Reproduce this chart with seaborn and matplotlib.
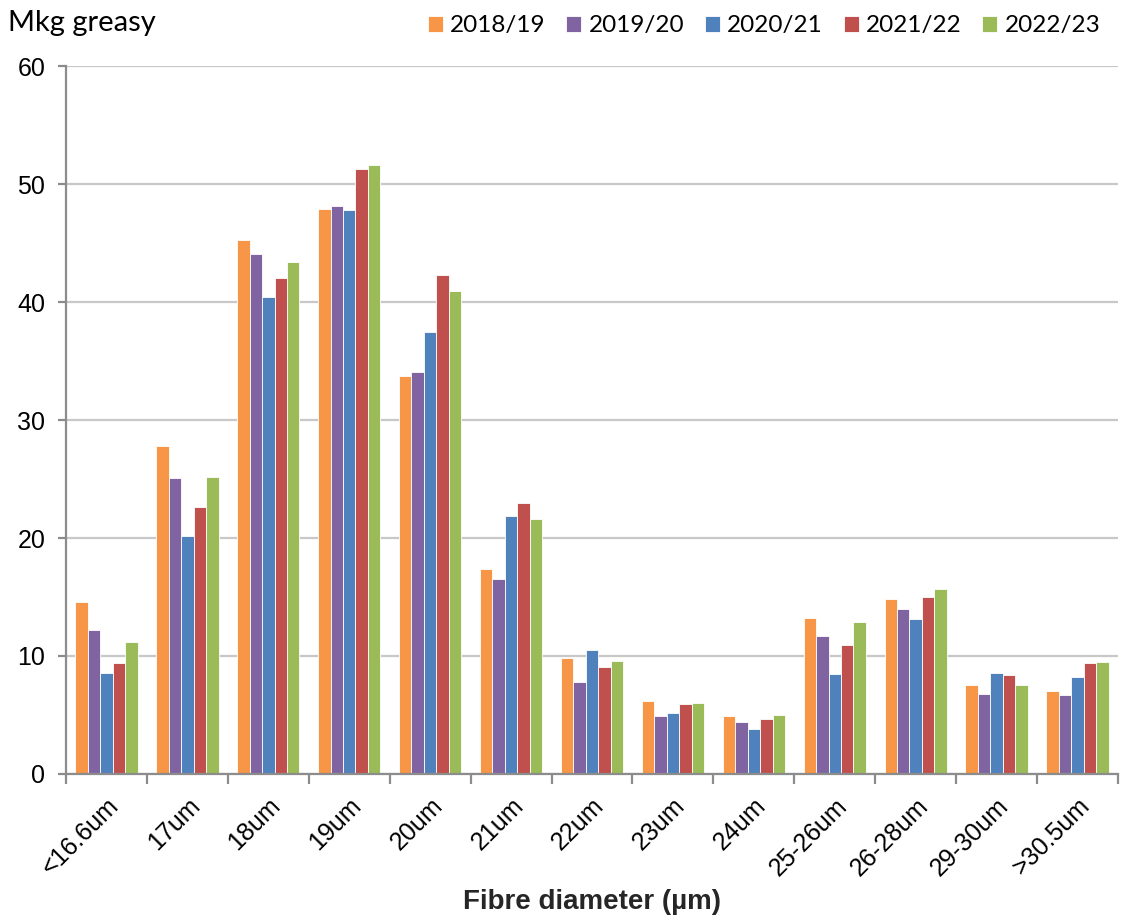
import numpy as np
import pandas as pd
import matplotlib
matplotlib.use("Agg")
import matplotlib.pyplot as plt
import seaborn as sns

categories = ["<16.6um", "17um", "18um", "19um", "20um", "21um", "22um",
              "23um", "24um", "25-26um", "26-28um", "29-30um", ">30.5um"]
seasons = ["2018/19", "2019/20", "2020/21", "2021/22", "2022/23"]

v_2018_19 = [14.6, 27.8, 45.3, 47.9, 33.7, 17.4, 9.8, 6.2, 4.9, 13.2, 14.8, 7.5, 7.0]
v_2019_20 = [12.2, 25.1, 44.1, 48.1, 34.1, 16.5, 7.8, 4.9, 4.4, 11.7, 14.0, 6.8, 6.7]
v_2020_21 = [8.6, 20.2, 40.4, 47.8, 37.5, 21.9, 10.5, 5.2, 3.8, 8.5, 13.1, 8.6, 8.2]
v_2021_22 = [9.4, 22.6, 42.0, 51.3, 42.3, 23.0, 9.1, 5.9, 4.7, 10.9, 15.0, 8.4, 9.4]
v_2022_23 = [11.2, 25.2, 43.4, 51.6, 40.9, 21.6, 9.6, 6.0, 5.0, 12.9, 15.7, 7.5, 9.5]

colors = ["#F79646", "#8064A2", "#4F81BD", "#C0504D", "#9BBB59"]

series = [v_2018_19, v_2019_20, v_2020_21, v_2021_22, v_2022_23]
rows = []
for s, vals in zip(seasons, series):
    for c, v in zip(categories, vals):
        rows.append({"diameter": c, "season": s, "value": v})
df = pd.DataFrame(rows)

sns.set_style("white")
plt.rcParams["font.family"] = ["Liberation Sans", "DejaVu Sans"]
plt.rcParams["text.color"] = "black"
plt.rcParams["xtick.color"] = "black"
plt.rcParams["ytick.color"] = "black"

fig = plt.figure(figsize=(11.23, 9.18), dpi=100)
ax = fig.add_axes([0.0588, 0.1569, 0.9367, 0.7711])

sns.barplot(data=df, x="diameter", y="value", hue="season", order=categories,
            hue_order=seasons, palette=colors, width=0.77, saturation=1,
            edgecolor="white", linewidth=0.6, ax=ax, legend=True)

ax.set_ylim(0, 60)
ax.set_xlim(-0.5, len(categories) - 0.5)
ax.set_yticks(range(0, 61, 10))
ax.yaxis.grid(True, color="#C8C8C8", linewidth=1.6)
ax.set_axisbelow(True)

for side in ["top", "right"]:
    ax.spines[side].set_visible(False)
for side in ["left", "bottom"]:
    ax.spines[side].set_color("#8C8C8C")
    ax.spines[side].set_linewidth(1.6)

ax.tick_params(axis="y", which="major", direction="out", length=6, width=1.6,
               color="#8C8C8C", labelcolor="black", labelsize=18, pad=9, left=True)
ax.set_xticks(range(len(categories)))
ax.set_xticklabels(categories, rotation=45, ha="right", rotation_mode="anchor",
                   fontsize=18, color="black")
ax.tick_params(axis="x", which="major", length=0, pad=14)
ax.set_xticks(np.arange(-0.5, len(categories)), minor=True)
ax.tick_params(axis="x", which="minor", direction="out", length=7, width=1.6,
               color="#8C8C8C", bottom=True)

ax.set_ylabel("")
ax.set_xlabel("Fibre diameter (µm)", fontsize=20, fontweight="bold")
ax.xaxis.set_label_coords(0.5, -0.163)
fig.text(0.007, 0.975, "Mkg greasy", fontsize=21, ha="left", va="center",
         family=["Lato", "DejaVu Sans"])

handles, labels = ax.get_legend_handles_labels()
ax.get_legend().remove()
fig.legend(handles, labels, loc="center right", bbox_to_anchor=(0.98, 0.972),
           ncol=5, frameon=False, prop={"family": "Lato", "size": 17.5},
           handlelength=0.62, handleheight=0.62, handletextpad=0.3,
           columnspacing=0.85, borderaxespad=0, borderpad=0)

fig.savefig("out.png", dpi=100)
